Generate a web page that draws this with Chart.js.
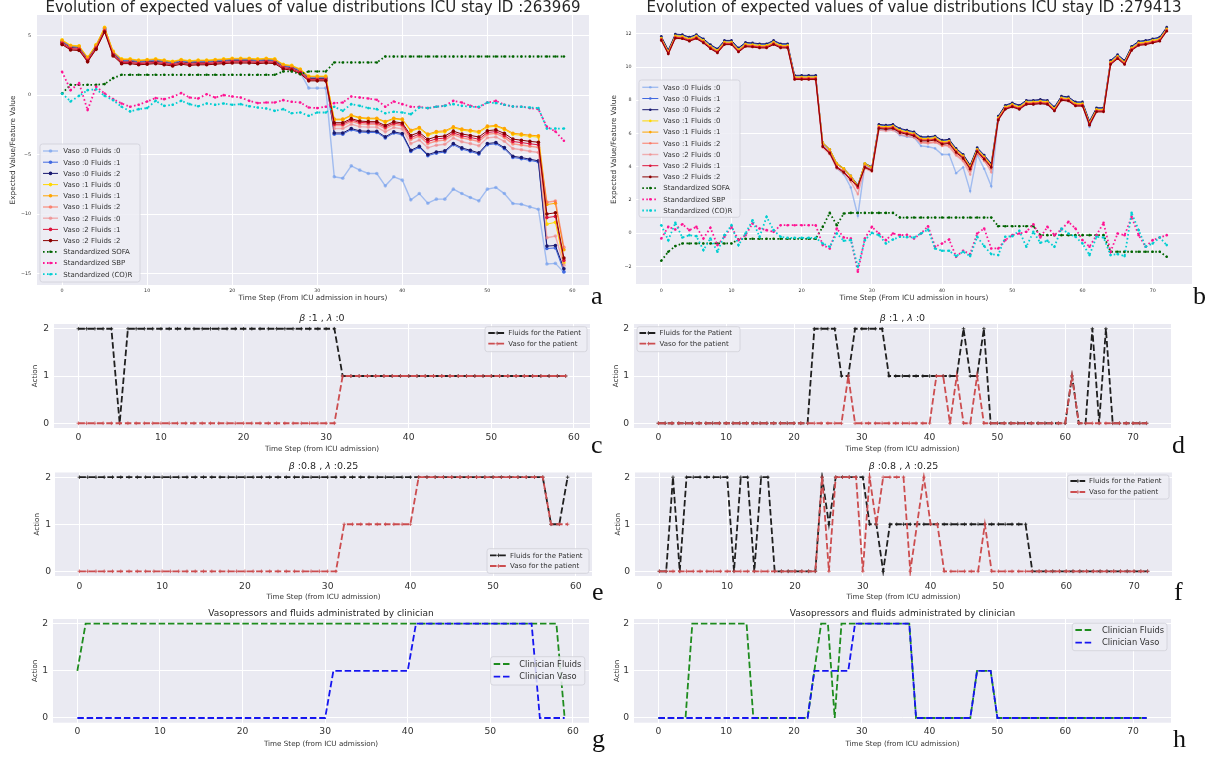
<!DOCTYPE html>
<html lang="en">
<head>
<meta charset="utf-8">
<title>Expected values and actions, ICU stays 263969 and 279413</title>
<script src="https://cdn.jsdelivr.net/npm/chart.js@4.4.1/dist/chart.umd.min.js"></script>
<style>
  html, body { margin: 0; padding: 0; background: #ffffff; }
  #page { position: relative; width: 1211px; height: 761px; overflow: hidden; }
  #page canvas { position: absolute; }
  .tag { position: absolute; z-index: 2; font-family: "Liberation Serif", "DejaVu Serif", serif; font-size: 26px; line-height: 26px; color: #111; }
</style>
</head>
<body>
<div id="page">
  <div class="tag" style="left:591px;top:283px">a</div>
  <div class="tag" style="left:1193px;top:283px">b</div>
  <div class="tag" style="left:591px;top:432px">c</div>
  <div class="tag" style="left:1172px;top:432px">d</div>
  <div class="tag" style="left:592px;top:579px">e</div>
  <div class="tag" style="left:1174px;top:579px">f</div>
  <div class="tag" style="left:592px;top:726px">g</div>
  <div class="tag" style="left:1173px;top:726px">h</div>
</div>
<script>
const FONT = '"DejaVu Sans", sans-serif';

// time steps (hours since ICU admission) of the two stays
const stepsA = Array.from({ length: 60 }, (_, i) => i);
const stepsB = Array.from({ length: 73 }, (_, i) => i);

const ticksXA = [0, 10, 20, 30, 40, 50, 60];
const ticksXB = [0, 10, 20, 30, 40, 50, 60, 70];
const ticksYA = [-15, -10, -5, 0, 5];
const ticksYB = [-2, 0, 2, 4, 6, 8, 10, 12];
const ticksAction = [0, 1, 2];

// stay 263969 : expected values per (vaso, fluids) action
const aV0F0 = [4.55,4.1,4.05,3.1,4.15,5.6,3.6,2.95,2.95,2.85,2.9,2.95,2.85,2.75,2.9,2.8,2.85,2.85,2.9,2.95,3.0,3.0,3.0,2.95,3.0,2.95,2.5,2.4,1.9,0.59,0.59,0.59,-6.87,-6.99,-5.95,-6.31,-6.59,-6.59,-7.63,-6.87,-7.15,-8.81,-8.28,-9.09,-8.75,-8.75,-7.91,-8.28,-8.61,-8.89,-7.91,-7.77,-8.28,-9.12,-9.18,-9.4,-9.6,-14.2,-14.15,-14.9];
const aV0F1 = [4.55,4.1,4.05,3.1,4.15,5.6,3.6,2.95,2.95,2.85,2.9,2.95,2.85,2.75,2.9,2.8,2.85,2.85,2.9,2.95,3.0,3.0,3.0,2.95,3.0,2.95,2.5,2.4,2.1,1.5,1.5,1.5,-3.28,-3.28,-2.91,-3.11,-3.14,-3.14,-3.61,-3.19,-3.33,-4.74,-4.4,-5.1,-4.88,-4.79,-4.17,-4.54,-4.74,-4.96,-4.17,-4.09,-4.51,-5.24,-5.35,-5.49,-5.63,-12.9,-12.85,-14.85];
const aV0F2 = [4.45,4.0,3.95,3.0,4.05,5.5,3.5,2.85,2.85,2.75,2.8,2.85,2.75,2.65,2.8,2.7,2.75,2.75,2.8,2.85,2.9,2.9,2.9,2.85,2.9,2.85,2.4,2.3,2.0,1.4,1.4,1.4,-3.18,-3.18,-2.81,-3.01,-3.04,-3.04,-3.51,-3.09,-3.23,-4.64,-4.3,-5.0,-4.78,-4.69,-4.07,-4.44,-4.64,-4.86,-4.07,-3.99,-4.41,-5.14,-5.25,-5.39,-5.53,-12.7,-12.65,-14.6];
const aV1F0 = [4.65,4.2,4.15,3.2,4.25,5.7,3.7,3.05,3.05,2.95,3.0,3.05,2.95,2.85,3.0,2.9,2.95,2.95,3.0,3.05,3.1,3.1,3.1,3.05,3.1,3.05,2.6,2.5,2.2,1.6,1.6,1.6,-2.08,-2.08,-1.74,-1.94,-2.0,-2.0,-2.29,-2.0,-2.08,-3.04,-2.8,-3.37,-3.15,-3.09,-2.74,-2.94,-3.04,-3.15,-2.69,-2.62,-2.89,-3.3,-3.38,-3.47,-3.53,-10.85,-10.7,-14.1];
const aV1F1 = [4.6,4.15,4.1,3.15,4.2,5.65,3.65,3.0,3.0,2.9,2.95,3.0,2.9,2.8,2.95,2.85,2.9,2.9,2.95,3.0,3.05,3.05,3.05,3.0,3.05,3.0,2.55,2.45,2.15,1.55,1.55,1.55,-2.02,-2.02,-1.68,-1.88,-1.94,-1.94,-2.22,-1.94,-2.02,-2.95,-2.72,-3.28,-3.06,-3.0,-2.67,-2.86,-2.95,-3.06,-2.61,-2.55,-2.81,-3.2,-3.28,-3.37,-3.42,-9.2,-9.1,-13.0];
const aV1F2 = [4.4,3.95,3.9,2.95,4.0,5.45,3.45,2.8,2.8,2.7,2.75,2.8,2.7,2.6,2.75,2.65,2.7,2.7,2.75,2.8,2.85,2.85,2.85,2.8,2.85,2.8,2.35,2.25,1.95,1.35,1.35,1.35,-2.56,-2.56,-2.21,-2.41,-2.46,-2.46,-2.82,-2.48,-2.59,-3.73,-3.45,-4.08,-3.86,-3.78,-3.32,-3.59,-3.73,-3.89,-3.29,-3.22,-3.55,-4.1,-4.19,-4.3,-4.39,-9.0,-8.9,-12.8];
const aV2F0 = [4.3,3.85,3.8,2.85,3.9,5.35,3.35,2.7,2.7,2.6,2.65,2.7,2.6,2.5,2.65,2.55,2.6,2.6,2.65,2.7,2.75,2.75,2.75,2.7,2.75,2.7,2.25,2.15,1.85,1.25,1.25,1.25,-2.81,-2.81,-2.45,-2.65,-2.69,-2.69,-3.09,-2.72,-2.84,-4.08,-3.78,-4.43,-4.21,-4.13,-3.61,-3.92,-4.08,-4.26,-3.59,-3.52,-3.88,-4.49,-4.59,-4.72,-4.82,-12.0,-11.85,-14.3];
const aV2F1 = [4.35,3.9,3.85,2.9,3.95,5.4,3.4,2.75,2.75,2.65,2.7,2.75,2.65,2.55,2.7,2.6,2.65,2.65,2.7,2.75,2.8,2.8,2.8,2.75,2.8,2.75,2.3,2.2,1.9,1.3,1.3,1.3,-2.44,-2.44,-2.09,-2.29,-2.34,-2.34,-2.69,-2.36,-2.46,-3.56,-3.29,-3.9,-3.68,-3.61,-3.18,-3.43,-3.56,-3.71,-3.14,-3.07,-3.39,-3.9,-3.99,-4.09,-4.18,-10.3,-10.2,-13.9];
const aV2F2 = [4.25,3.8,3.75,2.8,3.85,5.3,3.3,2.65,2.65,2.55,2.6,2.65,2.55,2.45,2.6,2.5,2.55,2.55,2.6,2.65,2.7,2.7,2.7,2.65,2.7,2.65,2.2,2.1,1.8,1.2,1.2,1.2,-2.32,-2.32,-1.98,-2.18,-2.23,-2.23,-2.56,-2.24,-2.34,-3.39,-3.13,-3.72,-3.5,-3.44,-3.03,-3.27,-3.39,-3.52,-2.99,-2.92,-3.22,-3.7,-3.79,-3.89,-3.96,-10.0,-9.9,-13.7];
// stay 263969 : standardized features
const aSofa = [0.14,0.87,0.87,0.87,0.87,0.93,1.43,1.71,1.71,1.71,1.71,1.71,1.71,1.71,1.71,1.71,1.71,1.71,1.71,1.71,1.71,1.71,1.71,1.71,1.71,1.71,1.99,1.99,1.77,1.99,1.99,1.99,2.75,2.75,2.75,2.75,2.75,2.75,3.25,3.25,3.25,3.25,3.25,3.25,3.25,3.25,3.25,3.25,3.25,3.25,3.25,3.25,3.25,3.25,3.25,3.25,3.25,3.25,3.25,3.25];
const aSbp = [1.96,0.42,1.01,-1.26,0.7,0.14,-0.34,-0.7,-0.98,-0.81,-0.53,-0.25,-0.34,-0.14,0.17,-0.2,-0.28,0.08,-0.2,0.0,-0.11,-0.2,-0.48,-0.67,-0.62,-0.62,-0.42,-0.56,-0.62,-1.04,-1.09,-0.98,-0.67,-0.62,-0.11,-0.2,-0.28,-0.39,-0.98,-0.53,-0.76,-0.98,-0.98,-1.09,-0.98,-0.9,-0.48,-0.62,-0.9,-1.04,-0.62,-0.48,-0.81,-0.95,-0.98,-1.09,-1.18,-2.67,-3.06,-3.84];
const aCor = [0.14,-0.53,-0.06,0.42,0.5,-0.06,-0.42,-0.98,-1.37,-1.18,-1.09,-0.48,-0.9,-0.81,-0.48,-0.76,-0.93,-0.7,-0.81,-0.7,-0.81,-0.76,-0.93,-1.04,-1.12,-1.32,-1.18,-1.52,-1.46,-1.74,-1.46,-1.46,-0.98,-1.32,-0.76,-0.9,-1.09,-1.18,-1.52,-1.4,-1.46,-1.6,-1.04,-1.09,-0.98,-0.9,-0.76,-0.9,-0.98,-0.98,-0.62,-0.67,-0.81,-0.95,-0.98,-1.04,-1.09,-2.81,-2.81,-2.81];

// stay 279413 : expected values per (vaso, fluids) action
const bV0F0 = [11.7,10.88,11.83,11.8,11.65,11.81,11.55,11.2,10.95,11.45,11.45,11.0,11.33,11.3,11.25,11.25,11.45,11.25,11.25,9.35,9.35,9.35,9.35,5.3,4.9,3.9,3.55,2.75,1.05,4.1,3.85,6.25,6.2,6.25,5.9,5.8,5.77,5.25,5.2,5.1,4.73,4.73,3.61,3.97,2.53,4.73,3.87,2.83,6.9,7.45,7.6,7.45,7.75,7.75,7.8,7.75,7.35,8.05,8.0,7.7,7.7,6.4,7.35,7.35,10.25,10.6,10.25,11.1,11.4,11.45,11.55,11.65,12.25];
const bV0F1 = [11.8,10.98,11.93,11.9,11.75,11.91,11.65,11.3,11.05,11.55,11.55,11.1,11.43,11.4,11.35,11.35,11.55,11.35,11.35,9.45,9.45,9.45,9.45,5.4,5.0,4.15,3.85,3.4,2.85,4.15,3.95,6.5,6.45,6.5,6.25,6.15,6.05,5.75,5.75,5.8,5.55,5.6,5.05,4.7,4.05,5.1,4.65,4.15,7.0,7.65,7.8,7.65,7.95,7.95,8.0,7.95,7.55,8.2,8.15,7.85,7.85,6.7,7.5,7.5,10.35,10.7,10.35,11.2,11.5,11.55,11.65,11.75,12.35];
const bV0F2 = [11.85,11.03,11.98,11.95,11.8,11.96,11.7,11.35,11.1,11.6,11.6,11.15,11.48,11.45,11.4,11.4,11.6,11.4,11.4,9.5,9.5,9.5,9.5,5.45,5.05,4.2,3.9,3.45,2.9,4.2,4.0,6.55,6.5,6.55,6.3,6.2,6.1,5.8,5.8,5.85,5.6,5.65,5.1,4.75,4.1,5.15,4.7,4.2,7.05,7.7,7.85,7.7,8.0,8.0,8.05,8.0,7.6,8.25,8.2,7.9,7.9,6.75,7.55,7.55,10.4,10.75,10.4,11.25,11.55,11.6,11.7,11.8,12.4];
const bV1F0 = [11.75,10.93,11.88,11.85,11.7,11.86,11.6,11.25,11.0,11.5,11.5,11.05,11.38,11.35,11.3,11.3,11.5,11.3,11.3,9.4,9.4,9.4,9.4,5.45,5.05,4.2,3.9,3.45,2.85,4.2,3.95,6.45,6.4,6.45,6.2,6.1,6.0,5.7,5.7,5.75,5.5,5.55,5.0,4.65,4.0,5.05,4.6,4.1,6.95,7.6,7.75,7.6,7.9,7.9,7.95,7.9,7.5,8.15,8.1,7.8,7.8,6.65,7.45,7.45,10.3,10.65,10.3,11.15,11.45,11.5,11.6,11.7,12.3];
const bV1F1 = [11.7,10.88,11.83,11.8,11.65,11.81,11.55,11.2,10.95,11.45,11.45,11.0,11.33,11.3,11.25,11.25,11.45,11.25,11.25,9.35,9.35,9.35,9.35,5.4,5.0,4.15,3.85,3.4,2.8,4.15,3.9,6.4,6.35,6.4,6.15,6.05,5.95,5.65,5.65,5.7,5.45,5.5,4.95,4.6,3.95,5.0,4.55,4.05,6.9,7.55,7.7,7.55,7.85,7.85,7.9,7.85,7.45,8.1,8.05,7.75,7.75,6.6,7.4,7.4,10.25,10.6,10.25,11.1,11.4,11.45,11.55,11.65,12.25];
const bV1F2 = [11.65,10.83,11.78,11.75,11.6,11.76,11.5,11.15,10.9,11.4,11.4,10.95,11.28,11.25,11.2,11.2,11.4,11.2,11.2,9.3,9.3,9.3,9.3,5.25,4.85,4.0,3.7,3.25,2.7,4.0,3.8,6.35,6.3,6.35,6.1,6.0,5.9,5.45,5.45,5.5,5.25,5.3,4.75,4.4,3.75,4.8,4.35,3.85,6.85,7.5,7.65,7.5,7.8,7.8,7.85,7.8,7.4,8.05,8.0,7.7,7.7,6.55,7.35,7.35,10.2,10.55,10.2,11.05,11.35,11.4,11.5,11.6,12.2];
const bV2F0 = [11.6,10.78,11.73,11.7,11.55,11.71,11.45,11.1,10.85,11.35,11.35,10.9,11.23,11.2,11.15,11.15,11.35,11.15,11.15,9.25,9.25,9.25,9.25,5.15,4.75,3.9,3.6,3.1,2.35,3.9,3.7,6.2,6.15,6.2,5.95,5.85,5.75,5.45,5.4,5.45,5.37,5.2,4.67,4.33,3.53,4.9,4.4,3.67,6.8,7.45,7.6,7.45,7.75,7.75,7.8,7.75,7.35,8.0,7.95,7.65,7.65,6.5,7.3,7.3,10.15,10.5,10.15,11.0,11.3,11.35,11.45,11.55,12.15];
const bV2F1 = [11.65,10.83,11.78,11.75,11.6,11.76,11.5,11.15,10.9,11.4,11.4,10.95,11.28,11.25,11.2,11.2,11.4,11.2,11.2,9.3,9.3,9.3,9.3,5.25,4.85,4.0,3.7,3.25,2.75,4.0,3.8,6.35,6.3,6.35,6.1,6.0,5.9,5.6,5.6,5.65,5.4,5.45,4.9,4.55,3.9,4.95,4.5,4.0,6.85,7.5,7.65,7.5,7.8,7.8,7.85,7.8,7.4,8.05,8.0,7.7,7.7,6.55,7.35,7.35,10.2,10.55,10.2,11.05,11.35,11.4,11.5,11.6,12.2];
const bV2F2 = [11.6,10.78,11.73,11.7,11.55,11.71,11.45,11.1,10.85,11.35,11.35,10.9,11.23,11.2,11.15,11.15,11.35,11.15,11.15,9.25,9.25,9.25,9.25,5.2,4.8,3.95,3.65,3.2,2.85,3.95,3.75,6.3,6.25,6.3,6.05,5.95,5.85,5.55,5.55,5.6,5.35,5.4,4.85,4.5,3.85,4.9,4.45,3.95,6.8,7.45,7.6,7.45,7.75,7.75,7.8,7.75,7.35,8.0,7.95,7.65,7.65,6.5,7.3,7.3,10.15,10.5,10.15,11.0,11.3,11.35,11.45,11.55,12.15];
// stay 279413 : standardized features
const bSofa = [-1.66,-1.12,-0.78,-0.62,-0.62,-0.62,-0.62,-0.62,-0.62,-0.62,-0.62,-0.38,-0.34,-0.34,-0.34,-0.34,-0.34,-0.34,-0.34,-0.34,-0.34,-0.34,-0.34,0.38,1.22,0.48,1.18,1.22,1.22,1.22,1.22,1.22,1.22,1.22,0.94,0.94,0.94,0.94,0.94,0.94,0.94,0.94,0.94,0.94,0.94,0.94,0.94,0.94,0.42,0.42,0.42,0.42,0.42,0.42,-0.12,-0.12,-0.12,-0.12,-0.12,-0.12,-0.12,-0.12,-0.12,-0.12,-1.12,-1.12,-1.12,-1.12,-1.12,-1.12,-1.12,-1.12,-1.42];
const bSbp = [-0.32,0.38,0.22,0.54,0.18,0.38,-0.32,0.32,-0.72,-0.22,0.38,-0.42,-0.12,0.58,0.28,0.18,0.08,0.48,0.48,0.48,0.48,0.48,0.48,-0.72,-0.92,0.28,-0.26,-0.32,-2.32,-0.32,0.38,-0.02,-0.42,-0.02,-0.12,-0.1,-0.32,-0.02,0.42,-0.82,-0.62,-0.38,-1.42,-1.06,-1.26,-0.02,0.28,-0.92,-0.92,-0.42,-0.12,-0.02,0.08,0.54,-0.26,0.38,-0.12,0.22,0.68,0.28,-0.42,-0.82,-0.12,0.62,-1.12,-0.02,-0.12,0.98,-0.12,-0.82,-0.42,-0.26,-0.12];
const bCor = [0.48,-0.42,0.62,-0.26,-0.12,-0.18,-1.02,-0.32,-1.12,-0.12,0.48,-0.72,-0.02,0.78,-0.22,0.98,0.18,-0.22,-0.28,-0.28,-0.28,-0.28,-0.28,-0.62,-0.82,-0.02,-0.46,-0.42,-2.02,-0.42,0.02,-0.12,-0.62,-0.38,-0.22,-0.24,-0.26,-0.02,0.22,-0.92,-1.06,-1.06,-1.38,-1.12,-1.38,-0.22,-0.78,-1.26,-1.32,-0.22,-0.18,0.14,-0.82,0.08,-0.58,-0.46,-0.82,0.28,-0.02,-0.22,-0.62,-1.32,-0.22,-0.26,-1.32,-1.26,-1.38,1.22,0.18,-0.82,-0.62,-0.26,-0.72];

// actions (0, 1, 2) chosen by the policy and by the clinician
const cFluids = [2,2,2,2,2,0,2,2,2,2,2,2,2,2,2,2,2,2,2,2,2,2,2,2,2,2,2,2,2,2,2,2,1,1,1,1,1,1,1,1,1,1,1,1,1,1,1,1,1,1,1,1,1,1,1,1,1,1,1,1];
const cVaso = [0,0,0,0,0,0,0,0,0,0,0,0,0,0,0,0,0,0,0,0,0,0,0,0,0,0,0,0,0,0,0,0,1,1,1,1,1,1,1,1,1,1,1,1,1,1,1,1,1,1,1,1,1,1,1,1,1,1,1,1];
const dFluids = [0,0,0,0,0,0,0,0,0,0,0,0,0,0,0,0,0,0,0,0,0,0,0,2,2,2,2,1,1,2,2,2,2,2,1,1,1,1,1,1,1,1,1,1,1,2,1,1,2,0,0,0,0,0,0,0,0,0,0,0,0,1,0,0,2,0,2,0,0,0,0,0,0];
const dVaso = [0,0,0,0,0,0,0,0,0,0,0,0,0,0,0,0,0,0,0,0,0,0,0,0,0,0,0,0,1,0,0,0,0,0,0,0,0,0,0,0,0,1,1,0,1,0,0,1,0,0,0,0,0,0,0,0,0,0,0,0,0,1,0,0,0,0,0,0,0,0,0,0,0];
const eFluids = [2,2,2,2,2,2,2,2,2,2,2,2,2,2,2,2,2,2,2,2,2,2,2,2,2,2,2,2,2,2,2,2,2,2,2,2,2,2,2,2,2,2,2,2,2,2,2,2,2,2,2,2,2,2,2,2,2,1,1,2];
const eVaso = [0,0,0,0,0,0,0,0,0,0,0,0,0,0,0,0,0,0,0,0,0,0,0,0,0,0,0,0,0,0,0,0,1,1,1,1,1,1,1,1,1,2,2,2,2,2,2,2,2,2,2,2,2,2,2,2,2,1,1,1];
const fFluids = [0,0,2,0,2,2,2,2,2,2,2,0,2,2,0,2,2,0,0,0,0,0,0,0,2,1,2,2,2,2,2,1,1,0,1,1,1,1,1,1,1,1,1,1,1,1,1,1,1,1,1,1,1,1,1,0,0,0,0,0,0,0,0,0,0,0,0,0,0,0,0,0,0];
const fVaso = [0,0,0,0,0,0,0,0,0,0,0,0,0,0,0,0,0,0,0,0,0,0,0,0,2,0,2,2,2,2,0,2,1,2,2,2,2,0,1,2,1,1,0,0,0,0,0,0,1,0,0,0,0,0,0,0,0,0,0,0,0,0,0,0,0,0,0,0,0,0,0,0,0];
const gFluids = [1,2,2,2,2,2,2,2,2,2,2,2,2,2,2,2,2,2,2,2,2,2,2,2,2,2,2,2,2,2,2,2,2,2,2,2,2,2,2,2,2,2,2,2,2,2,2,2,2,2,2,2,2,2,2,2,2,2,2,0];
const gVaso = [0,0,0,0,0,0,0,0,0,0,0,0,0,0,0,0,0,0,0,0,0,0,0,0,0,0,0,0,0,0,0,1,1,1,1,1,1,1,1,1,1,2,2,2,2,2,2,2,2,2,2,2,2,2,2,2,0,0,0,0];
const hFluids = [0,0,0,0,0,2,2,2,2,2,2,2,2,2,0,0,0,0,0,0,0,0,0,1,2,2,0,2,2,2,2,2,2,2,2,2,2,2,0,0,0,0,0,0,0,0,0,1,1,1,0,0,0,0,0,0,0,0,0,0,0,0,0,0,0,0,0,0,0,0,0,0,0];
const hVaso = [0,0,0,0,0,0,0,0,0,0,0,0,0,0,0,0,0,0,0,0,0,0,0,1,1,1,1,1,1,2,2,2,2,2,2,2,2,2,0,0,0,0,0,0,0,0,0,1,1,1,0,0,0,0,0,0,0,0,0,0,0,0,0,0,0,0,0,0,0,0,0,0,0];

const BETA_TITLE_1 = [['β', true], [' :1 , ', false], ['λ', true], [' :0', false]];
const BETA_TITLE_2 = [['β', true], [' :0.8 , ', false], ['λ', true], [' :0.25', false]];
const CLIN_TITLE = [['Vasopressors and fluids administrated by clinician', false]];

function valueSet(label, data, color, r, w) {
  return { label, data, borderColor: color, backgroundColor: color, pointBackgroundColor: color,
    pointBorderWidth: 0, pointRadius: r, borderWidth: w || 1, tension: 0 };
}
function featureSet(label, data, color) {
  return { label, data, borderColor: color, backgroundColor: color, pointBackgroundColor: color,
    pointBorderWidth: 0, pointRadius: 1.3, borderWidth: 1.8, borderDash: [1.6, 2.4], tension: 0 };
}
function actionSet(label, data, color, marks) {
  return { label, data, borderColor: color, backgroundColor: color, borderWidth: 1.8, borderDash: [6.5, 2.8],
    pointStyle: 'cross', pointRadius: marks ? 1.8 : 0, pointBorderColor: color, pointBorderWidth: 0.8, tension: 0 };
}

function valueSets(s, r) {
  return [
    valueSet('Vaso :0 Fluids :0', s[0], 'rgba(100,149,237,0.55)', r, 1.4),
    valueSet('Vaso :0 Fluids :1', s[1], '#4169e1', r),
    valueSet('Vaso :0 Fluids :2', s[2], '#191970', r),
    valueSet('Vaso :1 Fluids :0', s[3], '#ffd700', r),
    valueSet('Vaso :1 Fluids :1', s[4], '#ffa500', r),
    valueSet('Vaso :1 Fluids :2', s[5], 'rgba(255,99,71,0.6)', r, 1.4),
    valueSet('Vaso :2 Fluids :0', s[6], 'rgba(240,128,128,0.6)', r, 1.4),
    valueSet('Vaso :2 Fluids :1', s[7], '#dc143c', r),
    valueSet('Vaso :2 Fluids :2', s[8], '#8b0000', r),
    featureSet('Standardized SOFA', s[9], '#006400'),
    featureSet('Standardized SBP', s[10], '#ff1493'),
    featureSet('Standardized (CO)R', s[11], '#00ced1')
  ];
}

// background, title and legend are drawn in page coordinates
function makeDecor(p, ox, oy) {
  return {
    id: 'decor',
    beforeDraw(chart) {
      const { ctx, chartArea: a } = chart;
      ctx.save();
      ctx.fillStyle = '#eaeaf2';
      ctx.fillRect(a.left, a.top, a.right - a.left, a.bottom - a.top);
      ctx.restore();
    },
    afterDraw(chart) {
      const { ctx, chartArea: a } = chart;
      ctx.save();
      // title
      const fonts = p.title.map(([t, it]) => (it ? 'italic ' : '') + p.titleSize + 'px ' + FONT);
      let total = 0;
      p.title.forEach(([t], i) => { ctx.font = fonts[i]; total += ctx.measureText(t).width; });
      let x = (a.left + a.right) / 2 - total / 2;
      ctx.fillStyle = '#262626';
      ctx.textBaseline = 'alphabetic';
      p.title.forEach(([t], i) => {
        ctx.font = fonts[i];
        ctx.fillText(t, x, p.titleBase - oy);
        x += ctx.measureText(t).width;
      });
      // legend
      const L = p.legend;
      ctx.fillStyle = 'rgba(237,237,244,0.85)';
      ctx.strokeStyle = '#cfcfd8';
      ctx.lineWidth = 0.8;
      ctx.beginPath();
      const bx = L.box[0] - ox, by = L.box[1] - oy, bw = L.box[2] - L.box[0], bh = L.box[3] - L.box[1];
      if (ctx.roundRect) ctx.roundRect(bx, by, bw, bh, 2.5); else ctx.rect(bx, by, bw, bh);
      ctx.fill();
      ctx.stroke();
      ctx.font = L.size + 'px ' + FONT;
      ctx.textBaseline = 'middle';
      chart.data.datasets.forEach((ds, i) => {
        const y = L.rowY + i * L.rowGap - oy;
        const x0 = L.lineX[0] - ox, x1 = L.lineX[1] - ox, xm = (x0 + x1) / 2;
        ctx.strokeStyle = ds.borderColor;
        ctx.lineWidth = ds.borderWidth;
        ctx.setLineDash(ds.borderDash || []);
        ctx.beginPath(); ctx.moveTo(x0, y); ctx.lineTo(x1, y); ctx.stroke();
        ctx.setLineDash([]);
        if (ds.pointRadius > 0) {
          if (ds.pointStyle === 'cross') {
            ctx.lineWidth = 0.8;
            ctx.beginPath();
            ctx.moveTo(xm - 1.8, y); ctx.lineTo(xm + 1.8, y);
            ctx.moveTo(xm, y - 1.8); ctx.lineTo(xm, y + 1.8);
            ctx.stroke();
          } else {
            ctx.fillStyle = ds.borderColor;
            ctx.beginPath(); ctx.arc(xm, y, ds.pointRadius, 0, Math.PI * 2); ctx.fill();
          }
        }
        ctx.fillStyle = '#333333';
        ctx.fillText(ds.label, L.textX - ox, y + 0.5);
      });
      ctx.restore();
    }
  };
}

function fmt(v) { return String(v).replace('-', '\u2212'); }

function drawPanel(p) {
  const lh = p.axisSize * 1.2;
  const left = Math.floor(p.yTitleX - lh / 2);
  const top = Math.floor(p.titleBase - p.titleSize - 3);
  const right = p.plot[2] + 8;
  const bottom = Math.ceil(p.xTitleY + lh / 2);
  const canvas = document.createElement('canvas');
  canvas.width = right - left;
  canvas.height = bottom - top;
  canvas.style.left = left + 'px';
  canvas.style.top = top + 'px';
  document.querySelector('#page').appendChild(canvas);

  const n = p.datasets.length;
  p.datasets.forEach((d, i) => { d.order = n - i; });

  const tickFont = { family: FONT, size: p.tickSize };
  const axisFont = { family: FONT, size: p.axisSize };

  new Chart(canvas, {
    type: 'line',
    data: { labels: p.labels, datasets: p.datasets },
    options: {
      responsive: false,
      animation: false,
      devicePixelRatio: 1,
      layout: { padding: { left: 0, top: p.plot[1] - top, right: right - p.plot[2], bottom: 0 } },
      plugins: { legend: { display: false }, tooltip: { enabled: false }, title: { display: false } },
      scales: {
        x: {
          type: 'linear', min: p.xRange[0], max: p.xRange[1],
          afterBuildTicks: s => { s.ticks = p.xTicks.map(v => ({ value: v })); },
          afterFit: s => { s.height = bottom - p.plot[3]; },
          grid: { color: '#ffffff', lineWidth: 1, drawTicks: false },
          border: { display: false },
          ticks: { font: tickFont, color: '#333333', padding: p.xPad, maxRotation: 0, autoSkip: false, callback: fmt },
          title: { display: true, text: p.xTitle, font: axisFont, color: '#333333', padding: 0 }
        },
        y: {
          type: 'linear', min: p.yRange[0], max: p.yRange[1],
          afterBuildTicks: s => { s.ticks = p.yTicks.map(v => ({ value: v })); },
          afterFit: s => { s.width = p.plot[0] - left; },
          grid: { color: '#ffffff', lineWidth: 1, drawTicks: false },
          border: { display: false },
          ticks: { font: tickFont, color: '#333333', padding: p.yPad, autoSkip: false, callback: fmt },
          title: { display: true, text: p.yTitle, font: axisFont, color: '#333333', padding: 0 }
        }
      }
    },
    plugins: [makeDecor(p, left, top)]
  });
}

const rangeXA = [-2.95, 61.95];
const rangeXB = [-3.6, 75.6];
const rangeAction = [-0.1, 2.1];

const bigCommon = { tickSize: 4.8, axisSize: 7.3, titleSize: 15, titleBase: 11.7, xTitleY: 297,
  yTitle: 'Expected Value/Feature Value', xTitle: 'Time Step (From ICU admission in hours)' };
const smallCommon = { tickSize: 9.2, axisSize: 7.2, yTitle: 'Action', xTitle: 'Time Step (from ICU admission)',
  yTicks: ticksAction, yRange: rangeAction };

const panels = [
  Object.assign({}, bigCommon, {
    plot: [37, 15, 589, 285], yTitleX: 13.5, yPad: 6, xPad: 3,
    labels: stepsA, xTicks: ticksXA, xRange: rangeXA, yTicks: ticksYA, yRange: [-15.97, 6.74],
    title: [['Evolution of expected values of value distributions ICU stay ID :263969', false]],
    datasets: valueSets([aV0F0, aV0F1, aV0F2, aV1F0, aV1F1, aV1F2, aV2F0, aV2F1, aV2F2, aSofa, aSbp, aCor], 1.8),
    legend: { box: [40, 144, 140, 282], rowY: 151, rowGap: 11.2, lineX: [43, 58], textX: 63.3, size: 7 }
  }),
  Object.assign({}, bigCommon, {
    plot: [636, 15, 1192, 284], yTitleX: 615, yPad: 4.5, xPad: 3.5,
    labels: stepsB, xTicks: ticksXB, xRange: rangeXB, yTicks: ticksYB, yRange: [-3.06, 13.13],
    title: [['Evolution of expected values of value distributions ICU stay ID :279413', false]],
    datasets: valueSets([bV0F0, bV0F1, bV0F2, bV1F0, bV1F1, bV1F2, bV2F0, bV2F1, bV2F2, bSofa, bSbp, bCor], 1.3),
    legend: { box: [639, 80, 740, 217.3], rowY: 87.3, rowGap: 11.2, lineX: [642.3, 658.3], textX: 663.3, size: 7 }
  }),
  Object.assign({}, smallCommon, {
    plot: [54, 324, 590, 428], yTitleX: 36.3, xTitleY: 448.5, yPad: 5, xPad: 4,
    labels: stepsA, xTicks: ticksXA, xRange: rangeXA, title: BETA_TITLE_1, titleSize: 9.5, titleBase: 320.8,
    datasets: [actionSet('Fluids for the Patient', cFluids, '#1f1f1f', true), actionSet('Vaso for the patient', cVaso, '#cc4d4f', true)],
    legend: { box: [485, 326.7, 587, 351.7], rowY: 333, rowGap: 10.7, lineX: [488.3, 506], textX: 508.3, size: 7 }
  }),
  Object.assign({}, smallCommon, {
    plot: [634, 324, 1171, 428], yTitleX: 616.5, xTitleY: 448.5, yPad: 5, xPad: 4,
    labels: stepsB, xTicks: ticksXB, xRange: rangeXB, title: BETA_TITLE_1, titleSize: 9.5, titleBase: 320.8,
    datasets: [actionSet('Fluids for the Patient', dFluids, '#1f1f1f', true), actionSet('Vaso for the patient', dVaso, '#cc4d4f', true)],
    legend: { box: [637, 326.7, 740, 351.7], rowY: 333, rowGap: 10.7, lineX: [639.5, 657.5], textX: 659.5, size: 7 }
  }),
  Object.assign({}, smallCommon, {
    plot: [55, 472.5, 592, 576], yTitleX: 37.5, xTitleY: 595.7, yPad: 4, xPad: 5,
    labels: stepsA, xTicks: ticksXA, xRange: rangeXA, title: BETA_TITLE_2, titleSize: 9.5, titleBase: 469.2,
    datasets: [actionSet('Fluids for the Patient', eFluids, '#1f1f1f', true), actionSet('Vaso for the patient', eVaso, '#cc4d4f', true)],
    legend: { box: [487, 548.7, 589, 573.3], rowY: 555.3, rowGap: 10.7, lineX: [490, 507], textX: 510, size: 7 }
  }),
  Object.assign({}, smallCommon, {
    plot: [635, 472.5, 1172, 576], yTitleX: 618.5, xTitleY: 595.7, yPad: 5, xPad: 5,
    labels: stepsB, xTicks: ticksXB, xRange: rangeXB, title: BETA_TITLE_2, titleSize: 9.5, titleBase: 469.2,
    datasets: [actionSet('Fluids for the Patient', fFluids, '#1f1f1f', true), actionSet('Vaso for the patient', fVaso, '#cc4d4f', true)],
    legend: { box: [1067.6, 475, 1169, 499], rowY: 481, rowGap: 11, lineX: [1070.4, 1085.2], textX: 1089, size: 7 }
  }),
  Object.assign({}, smallCommon, {
    plot: [53, 619, 589, 722.7], yTitleX: 35.4, xTitleY: 742.7, yPad: 5, xPad: 3.5,
    labels: stepsA, xTicks: ticksXA, xRange: rangeXA, title: CLIN_TITLE, titleSize: 9, titleBase: 615.5,
    datasets: [actionSet('Clinician Fluids', gFluids, '#1e8c1e', false), actionSet('Clinician Vaso', gVaso, '#1515f0', false)],
    legend: { box: [490.6, 656.7, 584.8, 685], rowY: 664, rowGap: 12.7, lineX: [493.7, 511], textX: 519.3, size: 8.3 }
  }),
  Object.assign({}, smallCommon, {
    plot: [634, 619, 1171, 722.7], yTitleX: 617.4, xTitleY: 742.7, yPad: 5, xPad: 3.5,
    labels: stepsB, xTicks: ticksXB, xRange: rangeXB, title: CLIN_TITLE, titleSize: 9, titleBase: 615.5,
    datasets: [actionSet('Clinician Fluids', hFluids, '#1e8c1e', false), actionSet('Clinician Vaso', hVaso, '#1515f0', false)],
    legend: { box: [1072.3, 623.3, 1167, 650.7], rowY: 630, rowGap: 12.7, lineX: [1075.4, 1093], textX: 1102, size: 8.3 }
  })
];

document.addEventListener('DOMContentLoaded', () => {
  panels.forEach(drawPanel);
});
</script>
</body>
</html>
